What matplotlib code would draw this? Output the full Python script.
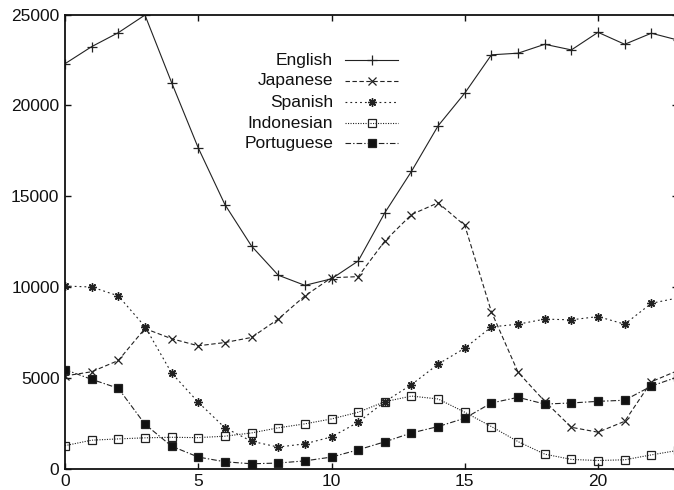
import matplotlib
matplotlib.use("Agg")
import matplotlib.pyplot as plt
from matplotlib.lines import Line2D

plt.rcParams['font.family'] = ['Liberation Sans', 'DejaVu Sans']
plt.rcParams['lines.scale_dashes'] = False

hours = list(range(24))
english = [22300, 23240, 24010, 24980, 21260, 17660, 14540, 12250, 10650, 10090,
           10450, 11430, 14090, 16370, 18880, 20680, 22790, 22880, 23370, 23060,
           24030, 23370, 23980, 23600]
japanese = [5100, 5330, 5950, 7710, 7150, 6760, 6940, 7220, 8230, 9510,
            10510, 10570, 12530, 13990, 14640, 13390, 8630, 5300, 3700, 2270,
            2000, 2600, 4780, 5400]
spanish = [10050, 10000, 9510, 7820, 5260, 3650, 2240, 1500, 1180, 1360,
           1740, 2550, 3680, 4620, 5750, 6630, 7800, 7950, 8230, 8190,
           8370, 7950, 9100, 9400]
indonesian = [1260, 1560, 1630, 1690, 1720, 1700, 1780, 1960, 2240, 2460,
              2730, 3100, 3680, 3990, 3830, 3100, 2310, 1480, 790, 500,
              440, 480, 750, 1000]
portuguese = [5450, 4910, 4420, 2440, 1230, 630, 370, 260, 300, 420,
              630, 1030, 1470, 1960, 2310, 2770, 3610, 3920, 3550, 3610,
              3700, 3760, 4540, 5050]

series = [
    ("English", english, dict(linestyle='-', marker='+', ms=6.5, mew=0.9)),
    ("Japanese", japanese, dict(dashes=(3.2, 1.8), marker='x', ms=5.5, mew=0.9)),
    ("Spanish", spanish, dict(dashes=(1.3, 2.2), marker=(8, 2, 0), ms=6, mew=1.0)),
    ("Indonesian", indonesian, dict(dashes=(0.8, 1.0), marker='s', ms=5.5, mew=0.9,
                                    mfc='none')),
    ("Portuguese", portuguese, dict(dashes=(4.0, 1.5, 1.0, 1.5), marker='s', ms=5.5,
                                    mew=0.9, mfc='#111111')),
]

W, H = 674, 490
fig = plt.figure(figsize=(W / 100, H / 100), dpi=100)
left_px, right_px, top_px, bot_px = 65, 678, 14.7, 468.5
ax = fig.add_axes([left_px / W, (H - bot_px) / H,
                   (right_px - left_px) / W, (bot_px - top_px) / H])

col = '#222222'
for name, vals, st in series:
    ax.plot(hours, vals, color=col, lw=0.8, mec=col, label=name, **st)

ax.set_xlim(0, 23)
ax.set_ylim(0, 25000)
ax.set_xticks([0, 5, 10, 15, 20])
ax.set_yticks([0, 5000, 10000, 15000, 20000, 25000])
ax.tick_params(direction='in', length=4.3, width=1.0, top=True, right=True,
               labelsize=12.5, pad=4, colors='#111111')
for s in ax.spines.values():
    s.set_linewidth(1.3)
    s.set_color('#111111')

# legend drawn manually (right-aligned labels, handle to the right)
aw = right_px - left_px
ah = bot_px - top_px
rows_y = [60, 81, 102, 123, 143.5]
for (name, vals, st), py in zip(series, rows_y):
    yy = (bot_px - py) / ah
    ax.text((333 - left_px) / aw, yy, name, transform=ax.transAxes, ha='right',
            va='center', fontsize=12.5, color='#111111')
    kw = {k: v for k, v in st.items() if k not in ('marker', 'ms', 'mew', 'mfc')}
    ln = Line2D([(345 - left_px) / aw, (398 - left_px) / aw], [yy, yy],
                transform=ax.transAxes, color=col, lw=0.8, **kw)
    ax.add_line(ln)
    mk = Line2D([(371.5 - left_px) / aw], [yy], transform=ax.transAxes,
                color=col, mec=col, linestyle='none', marker=st['marker'],
                ms=st['ms'], mew=st['mew'], mfc=st.get('mfc', col))
    ax.add_line(mk)

fig.savefig("out.png", dpi=100)
